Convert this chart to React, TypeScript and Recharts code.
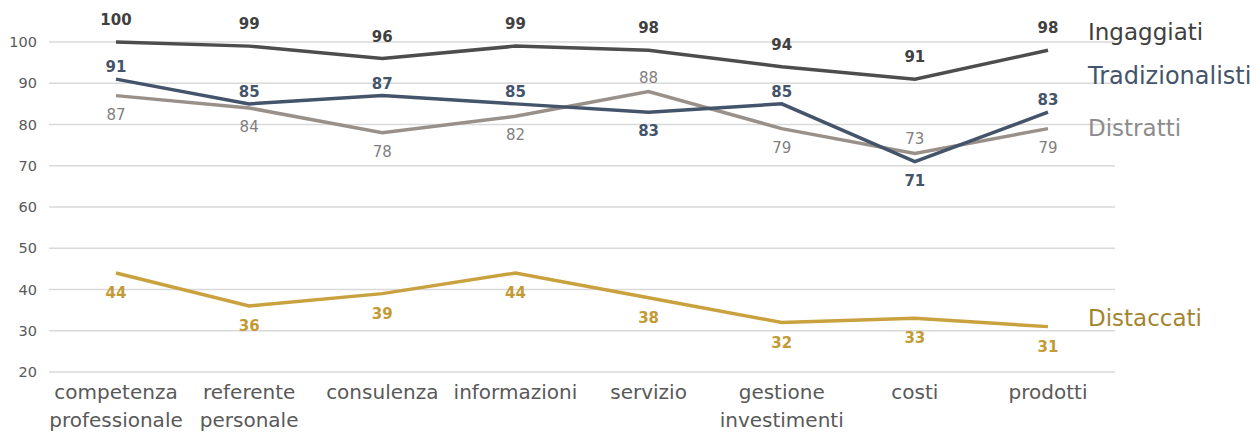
import React from 'react';
import { LineChart, Line, XAxis, YAxis, CartesianGrid, LabelList, ReferenceDot } from 'recharts';

const categories = [
  'competenza professionale',
  'referente personale',
  'consulenza',
  'informazioni',
  'servizio',
  'gestione investimenti',
  'costi',
  'prodotti',
];
const ingaggiati = [100, 99, 96, 99, 98, 94, 91, 98];
const tradizionalisti = [91, 85, 87, 85, 83, 85, 71, 83];
const distratti = [87, 84, 78, 82, 88, 79, 73, 79];
const distaccati = [44, 36, 39, 44, 38, 32, 33, 31];
const yTicks = [20, 30, 40, 50, 60, 70, 80, 90, 100];

// label sides (t = above, b = below)
const ingSides = ['t', 't', 't', 't', 't', 't', 't', 't'];
const tradSides = ['t', 't', 't', 't', 'b', 't', 'b', 't'];
const distrattiSides = ['b', 'b', 'b', 'b', 't', 'b', 't', 'b'];
const distaccatiSides = ['b', 'b', 'b', 'b', 'b', 'b', 'b', 'b'];

// vertical anchor value for the series names at the right
const seriesNameY = { Ingaggiati: 102.4, Tradizionalisti: 91.8, Distratti: 79.2, Distaccati: 33.1 };

const data = categories.map((c, i) => ({
  cat: c,
  ing: ingaggiati[i],
  trad: tradizionalisti[i],
  dis: distratti[i],
  dac: distaccati[i],
}));

const FONT = 'DejaVu Sans, Verdana, sans-serif';

const makeLabel = (color: string, bold: boolean, sides: string[], above: number, below: number) =>
  (props: any) => {
    const { x, y, value, index } = props;
    const side = sides[index];
    const ty = side === 't' ? y - above : y + below;
    return (
      <text
        x={x}
        y={ty}
        textAnchor="middle"
        dominantBaseline="central"
        fill={color}
        fontSize={15}
        fontWeight={bold ? 'bold' : 'normal'}
        fontFamily={FONT}
      >
        {value}
      </text>
    );
  };

const XTick = (props: any) => {
  const { x, y, payload } = props;
  const words = String(payload.value).split(' ');
  return (
    <text x={x} y={y} textAnchor="middle" fill="#595959" fontSize={20} fontFamily={FONT}>
      {words.map((w, i) => (
        <tspan key={i} x={x} dy={i === 0 ? 19 : 28}>
          {w}
        </tspan>
      ))}
    </text>
  );
};

export default function App() {
  return (
    <div style={{ position: 'absolute', left: 0, top: 0, width: 1258, height: 432, background: '#fff' }}>
      <LineChart width={1258} height={432} data={data} margin={{ top: 42, right: 143, left: 0, bottom: 0 }}>
        <CartesianGrid vertical={false} stroke="#d9d9d9" strokeWidth={1.5} />
        <XAxis
          dataKey="cat"
          axisLine={false}
          tickLine={false}
          interval={0}
          height={60}
          padding={{ left: 67, right: 67 }}
          tick={<XTick />}
        />
        <YAxis
          domain={[20, 100]}
          ticks={yTicks}
          axisLine={false}
          tickLine={false}
          width={49}
          tickMargin={6}
          tick={{ fill: '#595959', fontSize: 14.5, fontFamily: FONT }}
        />
        <Line dataKey="ing" stroke="#4d4d4d" strokeWidth={3.5} dot={false} isAnimationActive={false}>
          <LabelList dataKey="ing" content={makeLabel('#404040', true, ingSides, 22, 0)} />
        </Line>
        <Line dataKey="dis" stroke="#9a908a" strokeWidth={3.5} dot={false} isAnimationActive={false}>
          <LabelList dataKey="dis" content={makeLabel('#7f7f7f', false, distrattiSides, 14, 19)} />
        </Line>
        <Line dataKey="trad" stroke="#44546a" strokeWidth={3.5} dot={false} isAnimationActive={false}>
          <LabelList dataKey="trad" content={makeLabel('#44546a', true, tradSides, 12, 19)} />
        </Line>
        <Line dataKey="dac" stroke="#c9a23f" strokeWidth={3.5} dot={false} isAnimationActive={false}>
          <LabelList dataKey="dac" content={makeLabel('#c29b35', true, distaccatiSides, 0, 20)} />
        </Line>
        <ReferenceDot x={categories[7]} y={seriesNameY.Ingaggiati} r={0} ifOverflow="visible" fill="none" stroke="none"
          label={{ value: 'Ingaggiati', position: 'right', offset: 40, fill: '#404040', fontSize: 23, fontFamily: FONT }} />
        <ReferenceDot x={categories[7]} y={seriesNameY.Tradizionalisti} r={0} ifOverflow="visible" fill="none" stroke="none"
          label={{ value: 'Tradizionalisti', position: 'right', offset: 40, fill: '#44546a', fontSize: 24, fontFamily: FONT }} />
        <ReferenceDot x={categories[7]} y={seriesNameY.Distratti} r={0} ifOverflow="visible" fill="none" stroke="none"
          label={{ value: 'Distratti', position: 'right', offset: 40, fill: '#8c8c8c', fontSize: 23, fontFamily: FONT }} />
        <ReferenceDot x={categories[7]} y={seriesNameY.Distaccati} r={0} ifOverflow="visible" fill="none" stroke="none"
          label={{ value: 'Distaccati', position: 'right', offset: 40, fill: '#a3852f', fontSize: 23, fontFamily: FONT }} />
      </LineChart>
    </div>
  );
}
